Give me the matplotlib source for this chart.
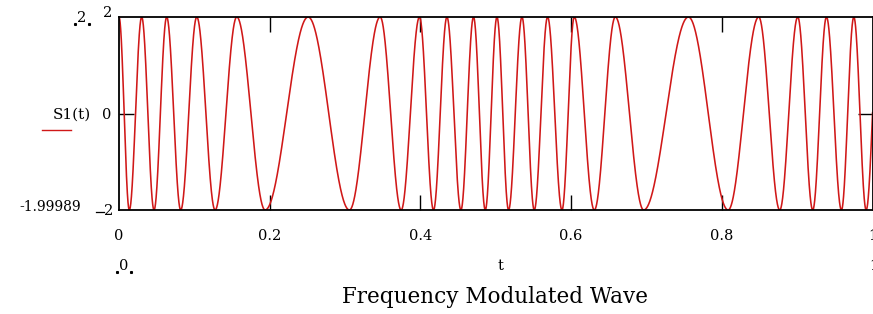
import numpy as np
import matplotlib
matplotlib.use("Agg")
import matplotlib.pyplot as plt
from matplotlib.lines import Line2D

# ---- data ----
# times of the wave crests (S1 = +2) and troughs (S1 = -2)
peak_t = [0.0, 0.0301, 0.0633, 0.1032, 0.1563, 0.2510, 0.3466, 0.3988, 0.4352,
          0.4705, 0.5016, 0.5348, 0.5688, 0.6042, 0.6587, 0.7557, 0.8490,
          0.9008, 0.9389, 0.9752, 1.0085]
trough_t = [0.0137, 0.0465, 0.0819, 0.1275, 0.1939, 0.3058, 0.3745, 0.4174,
            0.4538, 0.4861, 0.5170, 0.5511, 0.5879, 0.6308, 0.6963, 0.8084,
            0.8769, 0.9207, 0.9588, 0.9916]
amplitude = 2.0
x_ticks = [0, 0.2, 0.4, 0.6, 0.8, 1]
x_tick_labels = ["0", "0.2", "0.4", "0.6", "0.8", "1"]

W, H = 873, 314
fig = plt.figure(figsize=(W / 100, H / 100), dpi=100)
L, R, T, B = 119, 872.5, 17, 210
ax = fig.add_axes([L / W, 1 - B / H, (R - L) / W, (B - T) / H])

# curve through the read extrema (phase advances by pi between extrema)
ext_t = np.sort(np.array(peak_t + trough_t))
phase_pts = np.arange(len(ext_t)) * np.pi
tt = np.linspace(ext_t[0], ext_t[-1], 6000)
ss = amplitude * np.cos(np.interp(tt, ext_t, phase_pts))
ax.plot(tt, ss, color="#d01818", lw=1.15, solid_joinstyle="miter")

ax.set_xlim(0, 1)
ax.set_ylim(-2, 2)
for s in ax.spines.values():
    s.set_linewidth(1.3)
    s.set_color("black")

ax.set_xticks(x_ticks[1:-1])
ax.set_xticklabels([])
ax.set_yticks([0])
ax.set_yticklabels([])
ax.tick_params(axis="both", direction="in", length=11, width=1.0,
               top=True, bottom=True, left=True, right=True, color="black")

font = dict(family="DejaVu Serif", color="black")
xfm = ax.get_xaxis_transform()
for v, lab in zip(x_ticks, x_tick_labels):
    ax.text(v, -0.135, lab, transform=xfm, ha="center", va="center",
            fontsize=10.5, **font)

def ftxt(x, y, s, **kw):
    fig.text(x / W, 1 - y / H, s, **kw)

# y-axis labels
ftxt(112, 13, "2", ha="right", va="center", fontsize=10.5, **font)
ftxt(82, 18, "2", ha="center", va="center", fontsize=10.5, **font)
ftxt(111, 115, "0", ha="right", va="center", fontsize=10.5, **font)
ftxt(91, 115, "S1(t)", ha="right", va="center", fontsize=11, **font)
ftxt(81, 207, "-1.99989", ha="right", va="center", fontsize=10, **font)
ftxt(113, 211, "2", ha="right", va="center", fontsize=10.5, **font)
# legend line under S1(t)
fig.add_artist(Line2D([42 / W, 71 / W], [1 - 130 / H, 1 - 130 / H],
                      color="#d01818", lw=1.0))
# small dash before -2
fig.add_artist(Line2D([96 / W, 104 / W], [1 - 212 / H, 1 - 212 / H],
                      color="black", lw=0.9))

# axis range markers and x label
ftxt(124, 266, "0", ha="center", va="center", fontsize=10.5, **font)
ftxt(500, 266, "t", ha="center", va="center", fontsize=10.5, **font)
ftxt(869, 266, "1", ha="left", va="center", fontsize=10.5, **font)

# corner placeholder marks
for (cx, cy) in [(82, 18), (124, 266)]:
    for dx in (-7, 7):
        fig.add_artist(Line2D([(cx + dx) / W], [1 - (cy + 6) / H], marker="s",
                              ms=1.2, color="black", lw=0))

ftxt(495, 297, "Frequency Modulated Wave", ha="center", va="center",
     fontsize=15.5, **font)

fig.savefig("out.png", dpi=100)
